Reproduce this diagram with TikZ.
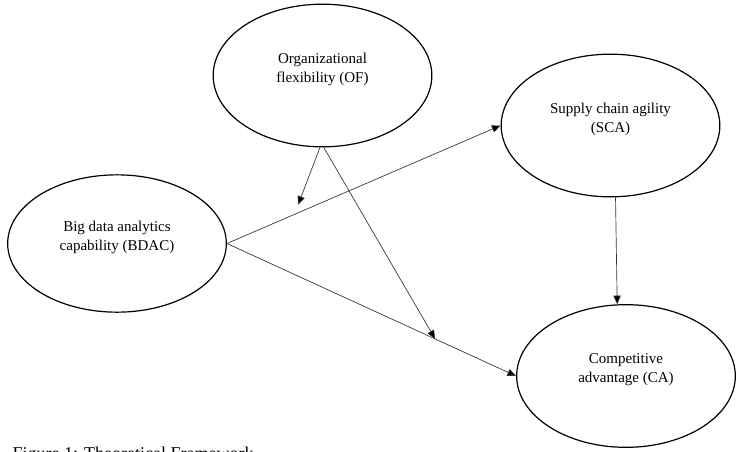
\documentclass[tikz,border=0pt]{standalone}
\usepackage{fontspec}
\setmainfont{Liberation Serif}
\usepackage{xcolor}
\usepackage{tikz}
\usetikzlibrary{positioning, calc, shapes.geometric, arrows.meta}
\definecolor{LinkColor}{rgb}{0.2,0.2,0.2}
\tikzset{
    construct/.style={
        shape=ellipse,
        draw=black,
        line width=0.9pt,
        inner sep=0pt,
        minimum width=164pt,
        minimum height=107pt,
        align=center,
        text depth=11.5pt,
        font=\fontsize{11.25}{14.25}\selectfont
    },
    link/.style={
        draw=LinkColor,
        line width=0.5pt,
        -{Triangle[length=6.5pt, width=5.5pt, fill=black]}
    }
}

\begin{document}
\begin{tikzpicture}[x=0.75pt, y=-0.75pt]

\useasboundingbox (0,0) rectangle (736,451);

% Constructs
\node[construct] (c_of) at (322.5, 75.5) {Organizational\\flexibility (OF)};
\node[construct] (c_sca) at (610.5, 125.5) {Supply chain agility\\(SCA)};
\node[construct, minimum height=103pt] (c_bdac) at (117, 243.5) {Big data analytics\\capability (BDAC)};
\node[construct] (c_ca) at (626, 376) {Competitive\\advantage (CA)};

% Moderation targets
\coordinate (m_sca) at ($(c_bdac.east)!0.26!(c_sca.west)+(0,-8)$);
\coordinate (m_ca) at ($(c_bdac.east)!0.72!(c_ca.west)$);

% Paths
\draw[link] (c_bdac.east) -- (c_sca.west);
\draw[link] (c_bdac.east) -- (c_ca.west);
\draw[link] (c_sca.-86) -- (c_ca.97);
\draw[link] (c_of.-92) -- (m_sca);
\draw[link] (c_of.-89) -- (m_ca);

% Caption
\node[anchor=base west, font=\fontsize{13.5}{16}\selectfont] (caption) at (8, 459) {Figure 1: Theoretical Framework};

\end{tikzpicture}
\end{document}
